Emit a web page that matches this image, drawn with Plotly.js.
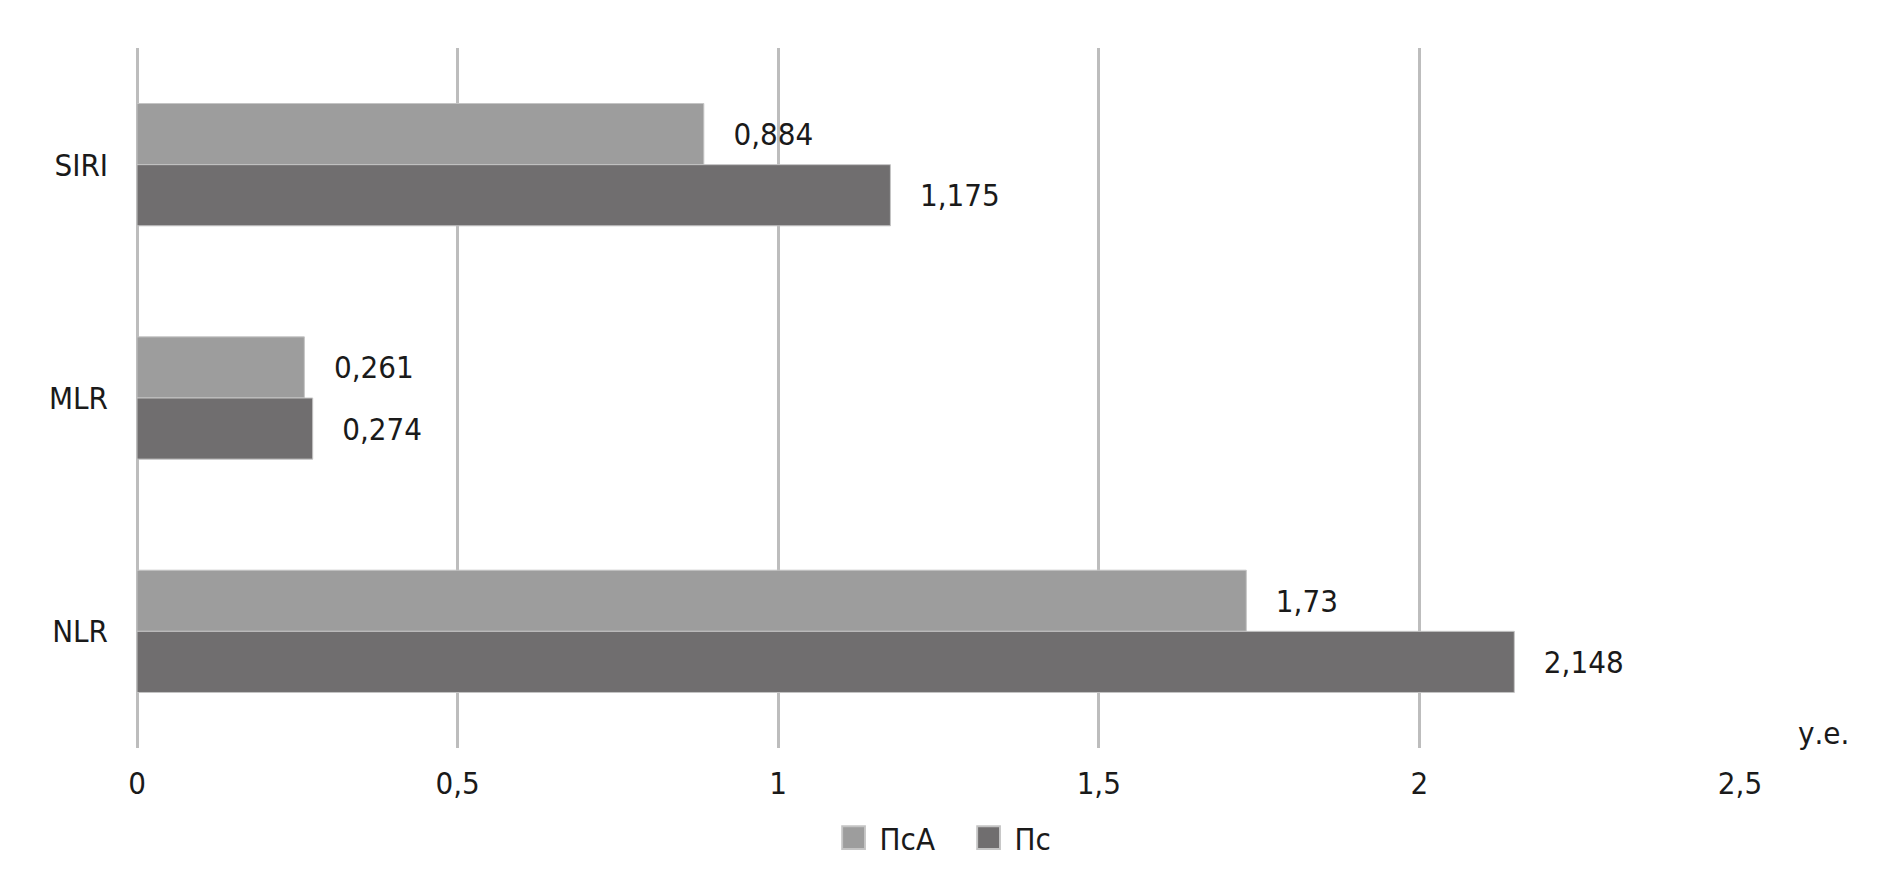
<!DOCTYPE html>
<html>
<head>
<meta charset="utf-8">
<script src="https://cdn.plot.ly/plotly-3.0.1.min.js"></script>
<style>html,body{margin:0;padding:0;background:#fff;}#chart{width:1888px;height:888px;}</style>
</head>
<body>
<div id="chart"></div>
<script>
const categories = ['SIRI', 'MLR', 'NLR'];
const seriesNames = ['ПсА', 'Пс'];
const valuesPsA = [0.884, 0.261, 1.73];
const valuesPs = [1.175, 0.274, 2.148];
const labelsPsA = ['0,884', '0,261', '1,73'];
const labelsPs = ['1,175', '0,274', '2,148'];
const xTickVals = [0, 0.5, 1, 1.5, 2, 2.5];
const xTickText = ['0', '0,5', '1', '1,5', '2', '2,5'];
const unitLabel = 'у.е.';

const FONT = 'DejaVu Sans Condensed, Liberation Sans Narrow, sans-serif';
const pad = '\u00a0\u00a0\u00a0';

function barTrace(name, vals, labels, color) {
  return {
    type: 'bar', orientation: 'h', name: name,
    x: vals, y: categories,
    text: labels.map(s => pad + s),
    textposition: 'outside', cliponaxis: false, constraintext: 'none',
    textfont: {family: FONT, size: 31, color: '#1a1a1a'},
    marker: {color: color, line: {color: '#c4c4c4', width: 1}},
    hoverinfo: 'none'
  };
}

const data = [
  barTrace(seriesNames[0], valuesPsA, labelsPsA, '#9d9d9d'),
  barTrace(seriesNames[1], valuesPs, labelsPs, '#706e6f')
];

const layout = {
  width: 1888, height: 888,
  margin: {l: 137, r: 148, t: 48, b: 140},
  paper_bgcolor: '#fff', plot_bgcolor: '#fff',
  font: {family: FONT, size: 31, color: '#1a1a1a'},
  separators: ', ',
  barmode: 'group', bargap: 0.476, bargroupgap: 0,
  showlegend: true,
  legend: {orientation: 'h', x: 0.5225, xanchor: 'center', y: -0.09, yanchor: 'top',
           bgcolor: 'rgba(0,0,0,0)',
           font: {family: FONT, size: 31, color: '#1a1a1a'}, itemwidth: 30,
           entrywidth: 90, entrywidthmode: 'pixels'},
  xaxis: {
    range: [0, 2.5], tickmode: 'array', tickvals: xTickVals, ticktext: xTickText,
    showgrid: true, gridcolor: '#bdbdbd', gridwidth: 3,
    zeroline: true, zerolinecolor: '#bdbdbd', zerolinewidth: 3,
    showline: false, ticks: '', ticklabelstandoff: 14,
    tickfont: {family: FONT, size: 31, color: '#1a1a1a'}, fixedrange: true
  },
  yaxis: {
    type: 'category', categoryorder: 'array', categoryarray: categories,
    autorange: 'reversed', showgrid: false, zeroline: false, showline: false,
    ticks: '', ticklabelstandoff: 28,
    tickfont: {family: FONT, size: 31, color: '#1a1a1a'}, fixedrange: true
  },
  annotations: [{
    xref: 'paper', yref: 'paper', x: 1.035, y: 0.021, xanchor: 'left', yanchor: 'middle',
    text: unitLabel, showarrow: false, font: {family: FONT, size: 31, color: '#1a1a1a'}
  }]
};

Plotly.newPlot('chart', data, layout, {displayModeBar: false, staticPlot: true}).then(() => {
  document.querySelectorAll('.legend [clip-path]').forEach(e => e.removeAttribute('clip-path'));
  document.querySelectorAll('.legendpoints path').forEach(p => {
    p.setAttribute('transform', 'translate(14,0) scale(1.9)');
  });
});
</script>
</body>
</html>
